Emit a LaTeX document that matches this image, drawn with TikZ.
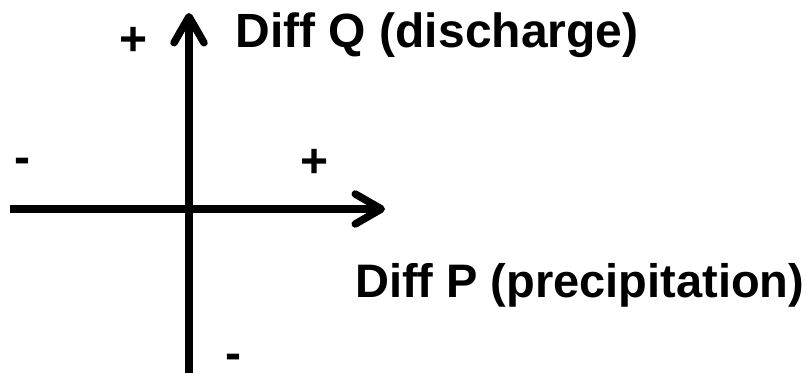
\documentclass[tikz,border=0pt]{standalone}
\usepackage{fontspec}
\setmainfont{Liberation Sans}
\usetikzlibrary{arrows.meta}
\begin{document}
\begin{tikzpicture}[x=1pt,y=-1pt,
  axis/.style={line width=7.5pt,-{Straight Barb[length=26pt,width=30pt,line cap=round,line join=round]}},
  lbl/.style={inner sep=0pt,font=\fontsize{48}{48}\selectfont\bfseries},
  sgn/.style={inner sep=0pt,font=\fontsize{48}{48}\selectfont\bfseries}]
\useasboundingbox (0,0) rectangle (810,372);
\coordinate (xl) at (10,209);
\coordinate (xr) at (385,209);
\coordinate (yb) at (189,380);
\coordinate (yt) at (189,13);
\draw[axis] (xl) -- (xr);
\draw[axis] (yb) -- (yt);
\node[lbl,anchor=base west] (lq) at (235.5,47) {Diff Q (discharge)};
\node[lbl,anchor=base west,font=\fontsize{47}{47}\selectfont\bfseries] (lp) at (355,297) {Diff P (precipitation)};
\node[sgn,anchor=center] (pq) at (134,41) {+};
\node[sgn,anchor=center] (pp) at (315,163) {+};
\node[sgn,anchor=base] (mp) at (22,173) {-};
\node[sgn,anchor=base] (mq) at (233,369) {-};
\end{tikzpicture}
\end{document}
